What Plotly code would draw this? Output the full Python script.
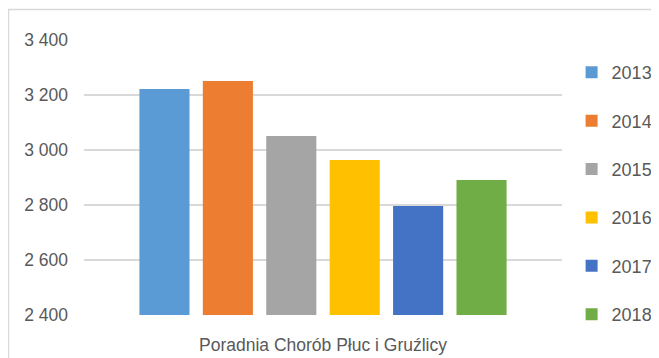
import plotly.graph_objects as go

# dane
category = ["Poradnia Chorób Płuc i Gruźlicy"]
years = ["2013", "2014", "2015", "2016", "2017", "2018"]
values = [3222, 3251, 3051, 2964, 2796, 2891]
colors = ["#5B9BD5", "#ED7D31", "#A5A5A5", "#FFC000", "#4472C4", "#70AD47"]

FONT = "Liberation Sans, Arial, sans-serif"
TXT = "#595959"

fig = go.Figure()
for i, year in enumerate(years):
    fig.add_trace(go.Bar(
        x=category, y=[values[i]],
        name=year,
        marker=dict(color=colors[i], line=dict(width=0)),
        legendgroup=year,
    ))

# ramka wykresu (widoczna tylko z góry i z lewej)
fig.add_shape(type="rect", xref="paper", yref="paper",
              x0=-0.158, x1=1.5, y0=-0.5, y1=1.111,
              line=dict(color="#d9d9d9", width=1.5), layer="below")

# strona html ma margines 8 px, wiec figura jest o tyle mniejsza
fig.update_layout(
    width=651, height=350,
    margin=dict(l=76, r=97, t=32, b=43, autoexpand=False),
    paper_bgcolor="white",
    plot_bgcolor="white",
    separators=", ",
    barmode="group",
    bargap=0.204,
    bargroupgap=0.21,
    font=dict(family=FONT, color=TXT),
    showlegend=True,
    legend=dict(
        x=1.2, y=0.949, xanchor="right", yanchor="top",
        font=dict(size=18, color=TXT, family=FONT),
        tracegroupgap=22,
        itemwidth=30,
        bgcolor="rgba(0,0,0,0)",
    ),
    xaxis=dict(
        showgrid=False, showline=False, ticks="",
        tickfont=dict(size=17.5, color=TXT, family=FONT),
        ticklabelstandoff=17,
    ),
    yaxis=dict(
        range=[2400, 3400], dtick=200, tick0=2400,
        tickformat=",d",
        showgrid=True, gridcolor="#d9d9d9", gridwidth=1.5,
        zeroline=False, showline=False, ticks="",
        tickfont=dict(size=17.5, color=TXT, family=FONT),
        ticklabelstandoff=15,
    ),
)

fig.write_html("out.html")
